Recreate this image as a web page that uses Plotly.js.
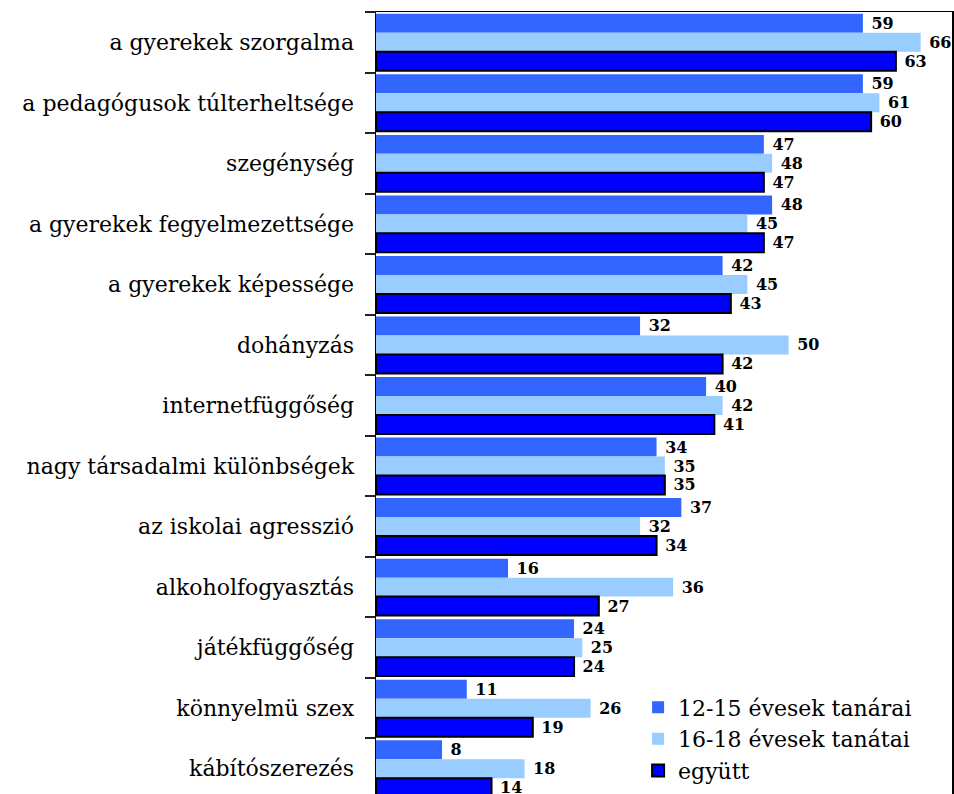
<!DOCTYPE html>
<html>
<head>
<meta charset="utf-8">
<script src="https://cdn.plot.ly/plotly-3.0.1.min.js"></script>
<style>
html,body{margin:0;padding:0;overflow:hidden;background:#fff;}
#chart{width:954px;height:822px;}
</style>
</head>
<body>
<div id="chart"></div>
<script>
const categories = [
  "a gyerekek szorgalma",
  "a pedagógusok túlterheltsége",
  "szegénység",
  "a gyerekek fegyelmezettsége",
  "a gyerekek képessége",
  "dohányzás",
  "internetfüggőség",
  "nagy társadalmi különbségek",
  "az iskolai agresszió",
  "alkoholfogyasztás",
  "játékfüggőség",
  "könnyelmü szex",
  "kábítószerezés"
];
const seriesNames = ["12-15 évesek tanárai", "16-18 évesek tanátai", "együtt"];
const teachers1215 = [59, 59, 47, 48, 42, 32, 40, 34, 37, 16, 24, 11, 8];
const teachers1618 = [66, 61, 48, 45, 45, 50, 42, 35, 32, 36, 25, 26, 18];
const together     = [63, 60, 47, 47, 43, 42, 41, 35, 34, 27, 24, 19, 14];

const serif = "'DejaVu Serif', serif";
const labelFont = {family: "'DejaVu Serif', serif", size: 16, color: "#000", weight: "bold"};
function mk(name, vals, color, line) {
  return {
    type: "bar", orientation: "h", name: name,
    x: vals, y: categories,
    marker: {color: color, line: line},
    text: vals.map(v => "\u00a0" + v),
    textposition: "outside",
    textfont: labelFont,
    cliponaxis: false,
    hoverinfo: "skip"
  };
}
const data = [
  mk(seriesNames[0], teachers1215, "#3366FF", {width: 0}),
  mk(seriesNames[1], teachers1618, "#99CCFF", {width: 0}),
  mk(seriesNames[2], together, "#0000FF", {width: 2, color: "#000"})
];
const layout = {
  width: 954, height: 822,
  margin: {l: 376, r: 2, t: 12, b: 23},
  barmode: "group", bargap: 0.06, bargroupgap: 0,
  paper_bgcolor: "#fff", plot_bgcolor: "#fff",
  showlegend: true,
  legend: {
    x: 0.455, y: 0.143, xanchor: "left", yanchor: "top",
    traceorder: "normal", bgcolor: "rgba(0,0,0,0)",
    font: {family: serif, size: 22, color: "#000"},
    tracegroupgap: 0
  },
  xaxis: {
    range: [0, 69.8], showticklabels: false, ticks: "", showgrid: false,
    zeroline: false, showline: true, mirror: true, linecolor: "#000", linewidth: 1.5,
    fixedrange: true
  },
  yaxis: {
    autorange: "reversed", type: "category",
    showline: true, mirror: true, linecolor: "#000", linewidth: 1.5,
    ticks: "outside", tickson: "boundaries", ticklen: 10, tickwidth: 2, tickcolor: "#222",
    showgrid: false, ticklabelstandoff: 16,
    tickfont: {family: serif, size: 22, color: "#000"},
    fixedrange: true
  }
};
Plotly.newPlot("chart", data, layout, {displayModeBar: false, staticPlot: true});
</script>
</body>
</html>
